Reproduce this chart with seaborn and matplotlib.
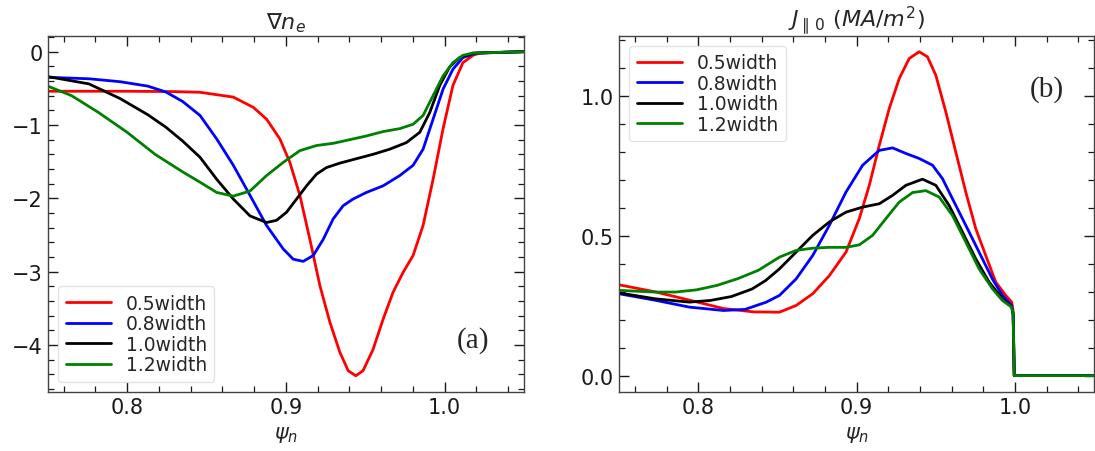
import numpy as np
import pandas as pd
import matplotlib
matplotlib.use("Agg")
import matplotlib.pyplot as plt
import seaborn as sns
from matplotlib.ticker import MultipleLocator

# ---------------- data ----------------
labels = ["0.5width", "0.8width", "1.0width", "1.2width"]
colors = ["red", "blue", "black", "green"]

# Panel (a): grad n_e
a_red_x = [0.75, 0.80, 0.830, 0.8459, 0.8669, 0.8795, 0.8878, 0.8962, 0.9025, 0.9088, 0.9151, 0.9214,
           0.9277, 0.934, 0.9392, 0.944, 0.9486, 0.9549, 0.9612, 0.9675, 0.9738, 0.9801, 0.9864,
           0.9927, 0.999, 1.0052, 1.0115, 1.0178, 1.022, 1.05]
a_red_y = [-0.54, -0.54, -0.545, -0.554, -0.62, -0.76, -0.92, -1.19, -1.51, -1.96, -2.56, -3.19,
           -3.69, -4.10, -4.35, -4.42, -4.35, -4.06, -3.65, -3.28, -3.01, -2.78, -2.37,
           -1.74, -1.05, -0.46, -0.15, -0.05, -0.02, 0.0]

a_blue_x = [0.75, 0.776, 0.7956, 0.813, 0.8244, 0.835, 0.8459, 0.8564, 0.8669, 0.8774, 0.8878, 0.8983,
            0.9046, 0.9109, 0.9172, 0.9235, 0.9298, 0.9361, 0.9423, 0.9507, 0.9612, 0.9717, 0.9801,
            0.9864, 0.9927, 0.999, 1.0052, 1.0115, 1.0199, 1.05]
a_blue_y = [-0.35, -0.37, -0.41, -0.47, -0.55, -0.68, -0.87, -1.19, -1.55, -1.96, -2.37, -2.69,
            -2.83, -2.86, -2.78, -2.56, -2.28, -2.10, -2.01, -1.92, -1.83, -1.69, -1.55,
            -1.33, -0.92, -0.51, -0.24, -0.08, -0.02, 0.0]

a_black_x = [0.75, 0.776, 0.7956, 0.813, 0.8244, 0.835, 0.8459, 0.8564, 0.8669, 0.8774, 0.8878, 0.8941,
             0.9004, 0.9067, 0.913, 0.9193, 0.9256, 0.934, 0.9444, 0.9549, 0.9654, 0.9759, 0.9843,
             0.9906, 0.9969, 1.0031, 1.0094, 1.0178, 1.05]
a_black_y = [-0.34, -0.44, -0.64, -0.86, -1.03, -1.22, -1.44, -1.74, -2.01, -2.24, -2.33, -2.30,
             -2.19, -2.01, -1.83, -1.67, -1.58, -1.52, -1.46, -1.40, -1.33, -1.24, -1.10,
             -0.83, -0.46, -0.21, -0.08, -0.02, 0.0]

a_green_x = [0.75, 0.765, 0.782, 0.80, 0.8176, 0.835, 0.8459, 0.8564, 0.8669, 0.8774, 0.8878, 0.8983,
             0.9088, 0.9193, 0.9298, 0.9403, 0.9507, 0.9612, 0.9717, 0.9801, 0.9864, 0.9927, 0.999,
             1.0052, 1.0115, 1.0178, 1.05]
a_green_y = [-0.47, -0.60, -0.83, -1.10, -1.40, -1.64, -1.78, -1.92, -1.97, -1.90, -1.69, -1.51,
             -1.35, -1.28, -1.25, -1.20, -1.15, -1.09, -1.05, -0.99, -0.87, -0.60, -0.33,
             -0.15, -0.05, -0.02, 0.0]

# Panel (b): J_par0 (MA/m^2)
b_red_x = [0.75, 0.7726, 0.7945, 0.816, 0.835, 0.8513, 0.8618, 0.8723, 0.8828, 0.8933, 0.9017, 0.908,
           0.9143, 0.9206, 0.9269, 0.9332, 0.9395, 0.9447, 0.95, 0.9563, 0.9626, 0.9689, 0.9752,
           0.9815, 0.9878, 0.9941, 0.9979, 0.9988, 0.9995, 1.05]
b_red_y = [0.325, 0.30, 0.27, 0.24, 0.228, 0.227, 0.251, 0.293, 0.358, 0.442, 0.562, 0.681,
           0.824, 0.956, 1.063, 1.135, 1.159, 1.141, 1.075, 0.944, 0.80, 0.657, 0.526,
           0.43, 0.335, 0.287, 0.263, 0.23, 0.0, 0.0]

b_blue_x = [0.75, 0.7726, 0.7945, 0.816, 0.8296, 0.843, 0.8513, 0.8618, 0.8723, 0.8828, 0.8933, 0.9038,
            0.9143, 0.9227, 0.9311, 0.9395, 0.9479, 0.9542, 0.9605, 0.9689, 0.9773, 0.9857, 0.992,
            0.9979, 0.9988, 0.9995, 1.05]
b_blue_y = [0.293, 0.27, 0.245, 0.233, 0.237, 0.263, 0.287, 0.346, 0.43, 0.538, 0.657, 0.753,
            0.806, 0.815, 0.795, 0.777, 0.753, 0.705, 0.633, 0.538, 0.442, 0.346, 0.287,
            0.251, 0.22, 0.0, 0.0]

b_black_x = [0.75, 0.7726, 0.7945, 0.8077, 0.821, 0.834, 0.8425, 0.8513, 0.8618, 0.8723, 0.8828, 0.8933,
             0.9038, 0.9143, 0.9227, 0.9311, 0.9416, 0.95, 0.9584, 0.9668, 0.9752, 0.9836, 0.992,
             0.9979, 0.9988, 0.9995, 1.05]
b_black_y = [0.296, 0.275, 0.263, 0.269, 0.283, 0.31, 0.34, 0.382, 0.442, 0.502, 0.55, 0.585,
             0.603, 0.615, 0.645, 0.681, 0.703, 0.681, 0.609, 0.514, 0.418, 0.335, 0.275,
             0.245, 0.22, 0.0, 0.0]

b_green_x = [0.75, 0.7726, 0.7857, 0.799, 0.812, 0.825, 0.838, 0.8513, 0.8618, 0.8723, 0.8828, 0.8933,
             0.9017, 0.9101, 0.9185, 0.9269, 0.9353, 0.9437, 0.9521, 0.9605, 0.9689, 0.9773, 0.9857,
             0.992, 0.9979, 0.9988, 0.9995, 1.05]
b_green_y = [0.305, 0.299, 0.299, 0.307, 0.323, 0.347, 0.377, 0.424, 0.448, 0.456, 0.459, 0.459,
             0.468, 0.502, 0.562, 0.621, 0.655, 0.662, 0.639, 0.573, 0.478, 0.382, 0.311,
             0.269, 0.245, 0.22, 0.0, 0.0]

xlim = (0.75, 1.05)
ylim_a = (-4.645, 0.218)
ylim_b = (-0.0597, 1.2166)

# ---------------- plotting ----------------
sns.set_style("ticks")
plt.rcParams["font.family"] = ["DejaVu Sans"]
plt.rcParams["mathtext.fontset"] = "dejavusans"
plt.rcParams["lines.solid_joinstyle"] = "round"
plt.rcParams["lines.solid_capstyle"] = "round"

fig = plt.figure(figsize=(10.95, 4.52), dpi=100)
ax1 = fig.add_axes([0.0436, 0.1299, 0.435, 0.789])
ax2 = fig.add_axes([0.5653, 0.1299, 0.434, 0.789])

series_a = [(a_red_x, a_red_y), (a_blue_x, a_blue_y), (a_black_x, a_black_y), (a_green_x, a_green_y)]
series_b = [(b_red_x, b_red_y), (b_blue_x, b_blue_y), (b_black_x, b_black_y), (b_green_x, b_green_y)]

def make_df(series):
    frames = []
    for (xs, ys), lab in zip(series, labels):
        frames.append(pd.DataFrame({"x": xs, "y": ys, "case": lab}))
    return pd.concat(frames, ignore_index=True)

df_a = make_df(series_a)
df_b = make_df(series_b)
pal = dict(zip(labels, colors))

sns.lineplot(data=df_a, x="x", y="y", hue="case", palette=pal, ax=ax1, lw=2.0,
             sort=False, estimator=None)
sns.lineplot(data=df_b, x="x", y="y", hue="case", palette=pal, ax=ax2, lw=2.0,
             sort=False, estimator=None)

for ax in (ax1, ax2):
    ax.set_xlim(*xlim)
    ax.xaxis.set_major_locator(MultipleLocator(0.1))
    ax.xaxis.set_minor_locator(MultipleLocator(0.02))
    ax.tick_params(which="both", direction="in", top=True, right=True, labelsize=15, colors="#1a1a1a")
    ax.tick_params(which="major", length=7.5, width=1)
    ax.tick_params(which="minor", length=4, width=0.9)
    for s in ax.spines.values():
        s.set_color("#444444")
        s.set_linewidth(1.0)
    ax.set_xlabel(r"$\psi_n$", fontsize=15, labelpad=5)
    ax.set_ylabel("")

ax1.set_ylim(*ylim_a)
ax1.yaxis.set_major_locator(MultipleLocator(1))
ax1.yaxis.set_minor_locator(MultipleLocator(0.2))
ax1.set_title(r"$\nabla n_e$", fontsize=16, pad=5)

ax2.set_ylim(*ylim_b)
ax2.yaxis.set_major_locator(MultipleLocator(0.5))
ax2.yaxis.set_minor_locator(MultipleLocator(0.1))
ax2.set_title(r"$J_{\parallel\, 0}\ (MA/m^2)$", fontsize=16, pad=5)

leg1 = ax1.legend(loc="lower left", fontsize=13.5, frameon=True, handlelength=2.4,
                  borderaxespad=0.55, labelspacing=0.08)
leg2 = ax2.legend(loc="upper left", fontsize=13.5, frameon=True, handlelength=2.4,
                  borderaxespad=0.55, labelspacing=0.08)
for leg in (leg1, leg2):
    leg.get_frame().set_edgecolor("#dddddd")
    for line in leg.get_lines():
        line.set_linewidth(2.0)

ax1.text(0.893, 0.149, "(a)", transform=ax1.transAxes, fontsize=21,
         family="Liberation Serif", ha="center", va="center")
ax2.text(0.90, 0.852, "(b)", transform=ax2.transAxes, fontsize=21,
         family="Liberation Serif", ha="center", va="center")

fig.savefig("out.png", dpi=100)
